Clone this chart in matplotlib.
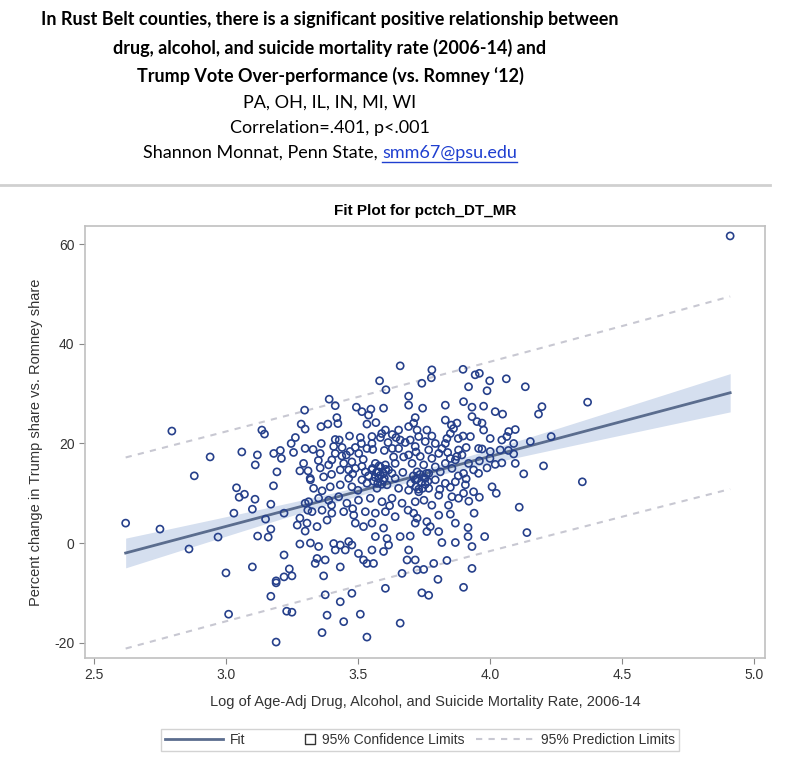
import matplotlib.pyplot as plt
import numpy as np
from matplotlib.lines import Line2D
from matplotlib.patches import Rectangle
from matplotlib.legend_handler import HandlerPatch

# county points: log mortality rate (x) vs. Trump over-performance (y)
pts = [
    (2.795, 22.5), (2.94, 17.3), (3.06, 18.3), (2.88, 13.5), (3.04, 11.1), (3.05, 9.2), (3.07, 9.8),
    (3.03, 6.0), (2.62, 4.0), (2.75, 2.8), (2.86, -1.2), (2.97, 1.2), (3.00, -6.0), (3.01, -14.3),
    (3.19, -19.9), (3.364, -18.0), (3.534, -18.9), (4.91, 61.7), (4.37, 28.3), (4.35, 12.3),
    (3.18, 11.5), (3.11, 8.8), (3.17, 7.8), (3.10, 6.8), (3.22, 6.0), (3.15, 4.8), (3.17, 2.8),
    (3.12, 1.4), (3.16, 1.2), (3.22, -2.4), (3.10, -4.8), (3.24, -5.2), (3.25, -6.6), (3.22, -6.8),
    (3.19, -8.0), (3.19, -7.6), (3.17, -10.7), (3.23, -13.7), (3.25, -13.9), (3.30, 8.0), (3.31, 6.6),
    (3.28, 5.0), (3.27, 3.6), (3.30, 2.4), (3.32, 0.0), (3.28, -0.2), (3.32, 12.7), (3.28, 14.5),
    (3.660, 35.6), (3.582, 32.6), (3.606, 30.8), (3.391, 28.9), (3.414, 27.6), (3.298, 26.7),
    (3.494, 27.3), (3.515, 26.4), (3.549, 26.9), (3.540, 25.7), (3.597, 27.1),
    (3.136, 22.7), (3.146, 21.9), (3.285, 23.9), (3.300, 22.9), (3.360, 23.4), (3.386, 23.9),
    (3.420, 25.2), (3.424, 24.0), (3.534, 23.9), (3.568, 24.2), (3.604, 22.7), (3.654, 22.7),
    (3.468, 21.5), (3.509, 21.2), (3.553, 21.4), (3.585, 21.2), (3.644, 21.2), (3.414, 20.8),
    (3.429, 20.7), (3.361, 20.0), (3.263, 21.2), (3.247, 20.0),
    (3.119, 17.7), (3.111, 15.7), (3.181, 18.0), (3.206, 18.6), (3.210, 17.0), (3.256, 18.2),
    (3.193, 14.3), (3.294, 16.0), (3.311, 14.5), (3.357, 15.1),
    (3.408, 19.4), (3.414, 18.0), (3.401, 16.7), (3.389, 15.7), (3.439, 17.5), (3.456, 17.7),
    (3.446, 16.0), (3.490, 19.2), (3.503, 18.0), (3.513, 20.0), (3.534, 19.0), (3.553, 20.0),
    (3.556, 18.8), (3.614, 20.2), (3.660, 20.7), (3.679, 20.2), (3.654, 19.0), (3.673, 17.3),
    (3.635, 17.3), (3.566, 16.0), (3.585, 15.3), (3.604, 15.7), (3.616, 14.7), (3.578, 14.3),
    (3.597, 14.0), (3.553, 14.7), (3.629, 14.0), (3.641, 16.0),
    (3.477, 16.3), (3.490, 15.0), (3.465, 14.7), (3.515, 15.4), (3.528, 14.3), (3.357, 18.0), (3.433, 14.7),
    (3.692, 29.5), (3.692, 27.7), (3.898, 34.9), (3.780, 34.8), (3.778, 33.2), (3.742, 32.1),
    (3.944, 33.8), (3.960, 34.1), (3.999, 32.6), (4.062, 33.0), (4.134, 31.4), (3.919, 31.4),
    (3.989, 30.6), (3.831, 27.7), (3.745, 27.1), (3.900, 28.4), (3.932, 27.3), (3.976, 27.5),
    (4.020, 26.4), (4.048, 25.9), (4.197, 27.4), (4.184, 25.9),
    (3.717, 25.2), (3.711, 24.1), (3.831, 24.7), (3.854, 23.7), (3.932, 25.4), (3.951, 24.4),
    (3.970, 24.1), (3.976, 22.7), (3.862, 23.0), (3.875, 24.1),
    (4.096, 22.8), (4.071, 22.4), (4.064, 21.4), (4.045, 20.7), (4.153, 20.4), (4.232, 21.4),
    (4.203, 15.5), (4.128, 13.9), (3.898, 21.5), (3.926, 21.4), (4.001, 21.0), (3.837, 21.0),
    (3.957, 19.0), (3.970, 18.9), (4.039, 18.7), (4.090, 20.0), (4.090, 17.9), (4.001, 18.4),
    (4.045, 16.1), (4.020, 15.8), (4.096, 16.0), (3.989, 15.1), (3.881, 18.7), (3.875, 17.4),
    (3.894, 17.7), (3.831, 20.0), (3.818, 19.0),
    (3.692, 23.4), (3.724, 22.7), (3.761, 22.7), (3.780, 21.5), (3.730, 21.4), (3.698, 20.7),
    (3.755, 20.4), (3.793, 20.0), (3.717, 19.4), (3.768, 18.7), (3.806, 18.0), (3.692, 17.7),
    (3.736, 17.4), (3.780, 17.0), (3.705, 16.0), (3.749, 15.7), (3.793, 15.3), (3.831, 16.0),
    (3.856, 15.0), (3.724, 14.3), (3.768, 14.0), (3.812, 14.3), (3.869, 16.7), (3.919, 16.0),
    (3.938, 14.7), (3.900, 14.0), (3.957, 14.0),
    (3.319, 13.0), (3.370, 13.3), (3.465, 13.0), (3.515, 12.7), (3.578, 13.0), (3.641, 13.0),
    (3.332, 11.0), (3.364, 10.5), (3.395, 11.3), (3.433, 11.7), (3.477, 11.3), (3.534, 12.0),
    (3.572, 11.0), (3.610, 11.7), (3.654, 11.0), (3.313, 8.3), (3.351, 9.0), (3.389, 8.6),
    (3.427, 9.3), (3.458, 8.0), (3.502, 8.6), (3.547, 9.0), (3.591, 8.3), (3.629, 9.0),
    (3.667, 8.0), (3.326, 6.3), (3.364, 6.6), (3.401, 6.0), (3.446, 6.3), (3.484, 5.6),
    (3.528, 6.3), (3.566, 6.0), (3.604, 6.3), (3.641, 5.3), (3.307, 4.0), (3.345, 3.3),
    (3.383, 4.6), (3.490, 4.0), (3.521, 3.3), (3.553, 4.0), (3.597, 3.0), (3.566, 1.3),
    (3.610, 0.9), (3.660, 1.3), (3.351, -0.7), (3.408, -0.1), (3.433, -0.4), (3.465, 0.3),
    (3.414, -1.4), (3.452, -1.4), (3.477, -0.4), (3.502, -2.1), (3.521, -3.4), (3.534, -4.1),
    (3.559, -4.1), (3.553, -1.4), (3.597, -1.7), (3.616, -0.4), (3.686, -3.4), (3.667, -6.1),
    (3.345, -3.1), (3.376, -3.4), (3.338, -4.1), (3.433, -4.8), (3.370, -6.6), (3.477, -10.1),
    (3.604, -9.1), (3.376, -10.4), (3.433, -11.8), (3.383, -14.5), (3.509, -14.3), (3.446, -15.8),
    (3.660, -16.1),
    (3.717, 12.7), (3.755, 13.0), (3.793, 12.7), (3.831, 12.0), (3.869, 12.3), (3.907, 11.7),
    (3.938, 10.3), (4.008, 11.3), (4.024, 10.0), (3.692, 10.6), (3.730, 10.3), (3.768, 11.0),
    (3.806, 9.6), (3.856, 9.3), (3.881, 9.0), (3.900, 10.0), (3.717, 8.3), (3.843, 7.6),
    (4.111, 7.2), (4.140, 2.1), (3.806, 5.6), (3.711, 6.0), (3.724, 5.0), (3.717, 4.0),
    (3.761, 4.3), (3.774, 3.3), (3.761, 2.3), (3.806, 2.3), (3.869, 4.0), (3.917, 3.1),
    (3.917, 1.3), (3.980, 1.3), (3.869, 0.1), (3.818, 0.1), (3.932, -0.7), (3.698, 1.4),
    (3.692, -1.4), (3.717, -3.4), (3.724, -5.4), (3.749, -5.3), (3.787, -4.1), (3.837, -3.5),
    (3.932, -5.1), (3.803, -7.3), (3.900, -8.9), (3.742, -10.0), (3.768, -10.5),
    (3.555, 15.0), (3.570, 14.2), (3.585, 13.6), (3.600, 13.0), (3.560, 12.4), (3.575, 12.0),
    (3.590, 11.8), (3.605, 14.8), (3.540, 13.5), (3.580, 15.5), (3.595, 12.6), (3.565, 13.2),
    (3.710, 13.5), (3.725, 12.9), (3.740, 12.2), (3.755, 11.8), (3.720, 11.3), (3.735, 13.8),
    (3.750, 13.1), (3.765, 12.4), (3.700, 12.0), (3.745, 11.0), (3.730, 10.8), (3.760, 14.0),
    (3.30, 19.0), (3.33, 18.8), (3.44, 19.2), (3.47, 18.4), (3.60, 18.6), (3.63, 19.0),
    (3.72, 18.3), (3.84, 18.2), (3.91, 19.2), (4.07, 18.6), (3.35, 16.6), (3.52, 16.8),
    (3.96, 16.5), (4.00, 17.0), (3.85, 17.0), (3.40, 13.8), (3.48, 13.9), (3.67, 14.2),
    (3.88, 13.5), (3.91, 12.9), (3.50, 10.6), (3.81, 10.8), (3.85, 11.2), (3.75, 8.6),
    (3.78, 7.6), (3.92, 8.4), (3.96, 9.2), (3.62, 7.5), (3.40, 7.6), (3.48, 6.9),
    (3.69, 6.6), (3.85, 5.8), (3.94, 6.0), (3.59, 22.0), (3.63, 21.8), (3.85, 22.0), (3.88, 21.0),
]
x = np.array([p[0] for p in pts])
y = np.array([p[1] for p in pts])

# regression as drawn in the SAS fit plot
fit_slope = 14.06
fit_intercept = -38.84
n_counties = 504
resid_sd = 9.65

title_lines = [
    "In Rust Belt counties, there is a significant positive relationship between",
    "drug, alcohol, and suicide mortality rate (2006-14) and",
    "Trump Vote Over-performance (vs. Romney \u201812)",
]
sub_lines = ["PA, OH, IL, IN, MI, WI", "Correlation=.401, p<.001"]
author = "Shannon Monnat, Penn State, "
email = "smm67@psu.edu"

# confidence / prediction limits around the fit
xbar = x.mean()
varx = x.var()
t = 1.965
xf = np.linspace(x.min(), x.max(), 200)
yf = fit_intercept + fit_slope * xf
lev = 1 / n_counties + (xf - xbar) ** 2 / (n_counties * varx)
ci = t * resid_sd * np.sqrt(lev)
pi = t * resid_sd * np.sqrt(1 + lev)

plt.rcParams["axes.unicode_minus"] = False
fig = plt.figure(figsize=(8, 7.59), dpi=100)
W, H = 800, 759

tfont = "Lato"
for i, ln in enumerate(title_lines):
    fig.text(330 / W, 1 - (20 + 28 * i) / H, ln, ha="center", va="center",
             fontsize=13, fontweight="bold", family=tfont)
for i, ln in enumerate(sub_lines):
    fig.text(330 / W, 1 - (103 + 25 * i) / H, ln, ha="center", va="center",
             fontsize=13, family=tfont)

# author line with underlined blue email
fig.canvas.draw()
r = fig.canvas.get_renderer()
t1 = fig.text(0, 1 - 153 / H, author, ha="left", va="center", fontsize=13, family=tfont)
t2 = fig.text(0, 1 - 153 / H, email, ha="left", va="center", fontsize=13, family=tfont,
              color="#1f3fd0")
w1 = t1.get_window_extent(r).width
w2 = t2.get_window_extent(r).width
x0 = 330 - (w1 + w2) / 2
t1.set_x(x0 / W)
t2.set_x((x0 + w1) / W)
fig.add_artist(Line2D([(x0 + w1) / W, (x0 + w1 + w2) / W], [1 - 162 / H] * 2,
                      color="#1f3fd0", lw=1))

fig.add_artist(Line2D([0, 770 / W], [1 - 185 / H] * 2, color="#d0d0d0", lw=2))

plt.rcParams["font.family"] = "Liberation Sans"
ax = fig.add_axes([85 / W, 1 - 658 / H, (765 - 85) / W, (658 - 226) / H])
ax.fill_between(xf, yf - ci, yf + ci, color="#d5dfef", lw=0, zorder=1)
ax.plot(xf, yf - pi, color="#c8c8d2", lw=1.5, ls=(0, (3, 3)), zorder=1)
ax.plot(xf, yf + pi, color="#c8c8d2", lw=1.5, ls=(0, (3, 3)), zorder=1)
ax.plot(xf, yf, color="#5b6d8e", lw=2, zorder=2)
ax.scatter(x, y, s=26, facecolors="none", edgecolors="#26408b", linewidths=1.2, zorder=3)

ax.set_xlim(2.466, 5.042)
ax.set_ylim(-23.1, 63.7)
ax.set_xticks([2.5, 3.0, 3.5, 4.0, 4.5, 5.0])
ax.set_yticks([-20, 0, 20, 40, 60])
ax.tick_params(colors="#888888", labelcolor="#333333", labelsize=10, length=4)
for sp in ax.spines.values():
    sp.set_color("#c0c0c0")
    sp.set_linewidth(1.2)
ax.set_xlabel("Log of Age-Adj Drug, Alcohol, and Suicide Mortality Rate, 2006-14",
              fontsize=10.5, color="#333333", labelpad=9)
ax.set_ylabel("Percent change in Trump share vs. Romney share", fontsize=10.5,
              color="#333333", labelpad=8)
ax.set_title("Fit Plot for pctch_DT_MR", fontsize=11, fontweight="bold", pad=8)


def square_right(legend, orig_handle, xdescent, ydescent, width, height, fontsize):
    side = height * 1.1
    return Rectangle((width - side - xdescent, (height - side) / 2 - ydescent), side, side)


ci_handle = Rectangle((0, 0), 1, 1, facecolor="white", edgecolor="#333333", lw=1)
handles = [
    Line2D([], [], color="#5b6d8e", lw=2),
    ci_handle,
    Line2D([], [], color="#c8c8d2", lw=1.5, ls=(0, (3, 3))),
]
labels = ["Fit", "95% Confidence Limits", "95% Prediction Limits"]
leg = fig.legend(handles, labels, loc="center", bbox_to_anchor=(420 / W, 1 - 740 / H),
                 ncol=3, fontsize=10, frameon=True, fancybox=False, handlelength=4.2,
                 handletextpad=0.5, columnspacing=0.8, borderpad=0.3,
                 handler_map={ci_handle: HandlerPatch(patch_func=square_right)})
leg.get_frame().set_edgecolor("#c8c8c8")
for txt in leg.get_texts():
    txt.set_color("#333333")

fig.savefig("out.png", dpi=100)
